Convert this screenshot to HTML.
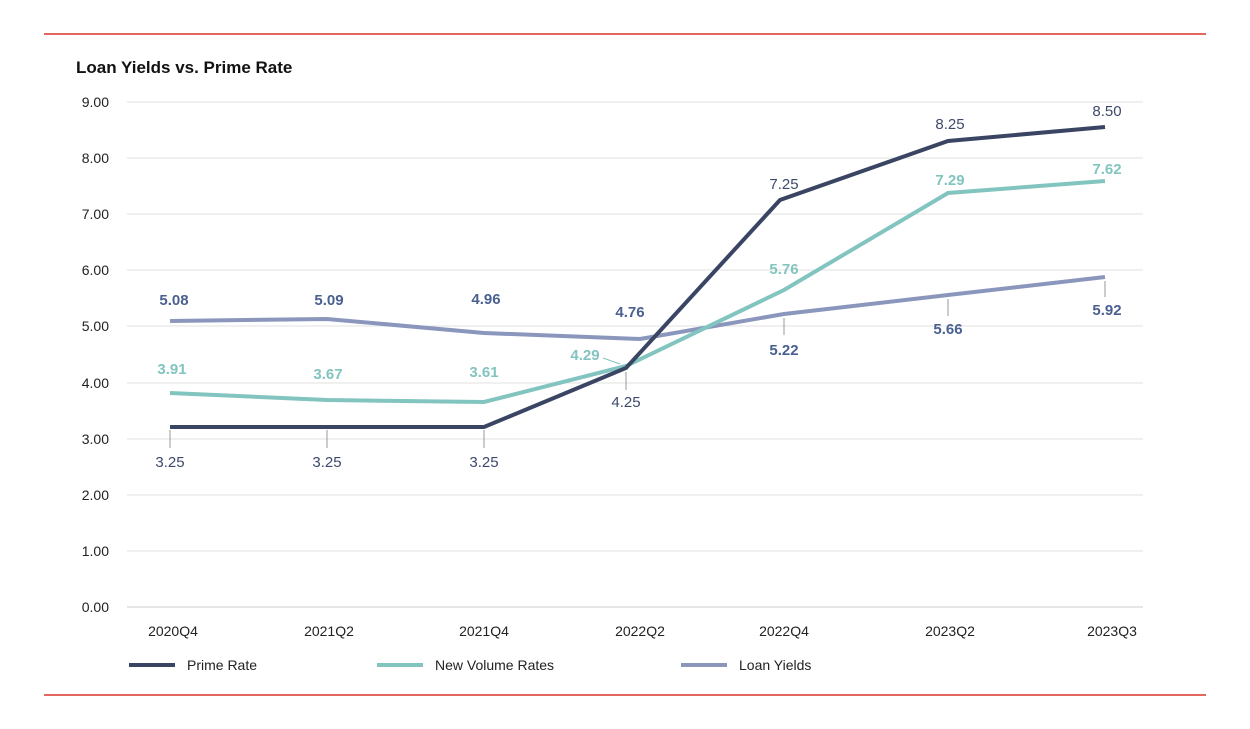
<!DOCTYPE html>
<html><head><style>body{margin:0;background:#fff}svg{display:block}</style></head><body>
<svg width="1250" height="729" xmlns="http://www.w3.org/2000/svg" font-family="Liberation Sans, sans-serif">
<line x1="44" y1="34" x2="1206" y2="34" stroke="#d8352b" stroke-width="1.5"/>
<line x1="44" y1="695" x2="1206" y2="695" stroke="#d8352b" stroke-width="1.5"/>
<text x="76" y="73" font-size="17" font-weight="bold" fill="#111">Loan Yields vs. Prime Rate</text>
<g stroke="#e2e2e2" stroke-width="1">
<line x1="127" x2="1143" y1="102" y2="102"/><line x1="127" x2="1143" y1="158" y2="158"/><line x1="127" x2="1143" y1="214" y2="214"/><line x1="127" x2="1143" y1="270" y2="270"/><line x1="127" x2="1143" y1="326" y2="326"/><line x1="127" x2="1143" y1="383" y2="383"/><line x1="127" x2="1143" y1="439" y2="439"/><line x1="127" x2="1143" y1="495" y2="495"/><line x1="127" x2="1143" y1="551" y2="551"/><line x1="127" x2="1143" y1="607" y2="607" stroke="#ccc"/>
</g>
<g font-size="14" fill="#222" text-anchor="end">
<text x="109" y="107">9.00</text><text x="109" y="163">8.00</text><text x="109" y="219">7.00</text><text x="109" y="275">6.00</text><text x="109" y="331">5.00</text><text x="109" y="388">4.00</text><text x="109" y="444">3.00</text><text x="109" y="500">2.00</text><text x="109" y="556">1.00</text><text x="109" y="612">0.00</text>
</g>
<g font-size="14" fill="#222" text-anchor="middle">
<text x="173" y="636">2020Q4</text><text x="329" y="636">2021Q2</text><text x="484" y="636">2021Q4</text><text x="640" y="636">2022Q2</text><text x="784" y="636">2022Q4</text><text x="950" y="636">2023Q2</text><text x="1112" y="636">2023Q3</text>
</g>
<g stroke="#999" stroke-width="1">
<line x1="170" y1="430" x2="170" y2="448"/><line x1="327" y1="430" x2="327" y2="448"/><line x1="484" y1="430" x2="484" y2="448"/><line x1="626" y1="372" x2="626" y2="390"/>
<line x1="784" y1="318" x2="784" y2="335"/><line x1="948" y1="299" x2="948" y2="316"/><line x1="1105" y1="281" x2="1105" y2="297"/>
<line x1="603" y1="358" x2="620" y2="364" stroke="#82c4bf"/>
</g>
<polyline fill="none" stroke="#8a96bc" stroke-width="4" points="170,321 327,319 484,333 640,339 784,314 948,295 1105,277"/>
<polyline fill="none" stroke="#82c4bf" stroke-width="4" points="170,393 327,400 484,402 626,366 784,290 948,193 1105,181"/>
<polyline fill="none" stroke="#394562" stroke-width="4" points="170,427 327,427 484,427 626,368 780,200 948,141 1105,127"/>
<g font-size="15" fill="#3d4a6b" text-anchor="middle">
<text x="170" y="467">3.25</text><text x="327" y="467">3.25</text><text x="484" y="467">3.25</text><text x="626" y="407">4.25</text><text x="784" y="189">7.25</text><text x="950" y="129">8.25</text><text x="1107" y="116">8.50</text>
</g>
<g font-size="15" font-weight="bold" fill="#82c4bf" text-anchor="middle">
<text x="172" y="374">3.91</text><text x="328" y="379">3.67</text><text x="484" y="377">3.61</text><text x="585" y="360">4.29</text><text x="784" y="274">5.76</text><text x="950" y="185">7.29</text><text x="1107" y="174">7.62</text>
</g>
<g font-size="15" font-weight="bold" fill="#4a6091" text-anchor="middle">
<text x="174" y="305">5.08</text><text x="329" y="305">5.09</text><text x="486" y="304">4.96</text><text x="630" y="317">4.76</text><text x="784" y="355">5.22</text><text x="948" y="334">5.66</text><text x="1107" y="315">5.92</text>
</g>
<g font-size="14" fill="#222">
<line x1="129" y1="665" x2="175" y2="665" stroke="#394562" stroke-width="4"/><text x="187" y="670">Prime Rate</text>
<line x1="377" y1="665" x2="423" y2="665" stroke="#82c4bf" stroke-width="4"/><text x="435" y="670">New Volume Rates</text>
<line x1="681" y1="665" x2="727" y2="665" stroke="#8a96bc" stroke-width="4"/><text x="739" y="670">Loan Yields</text>
</g>
</svg>
</body></html>
